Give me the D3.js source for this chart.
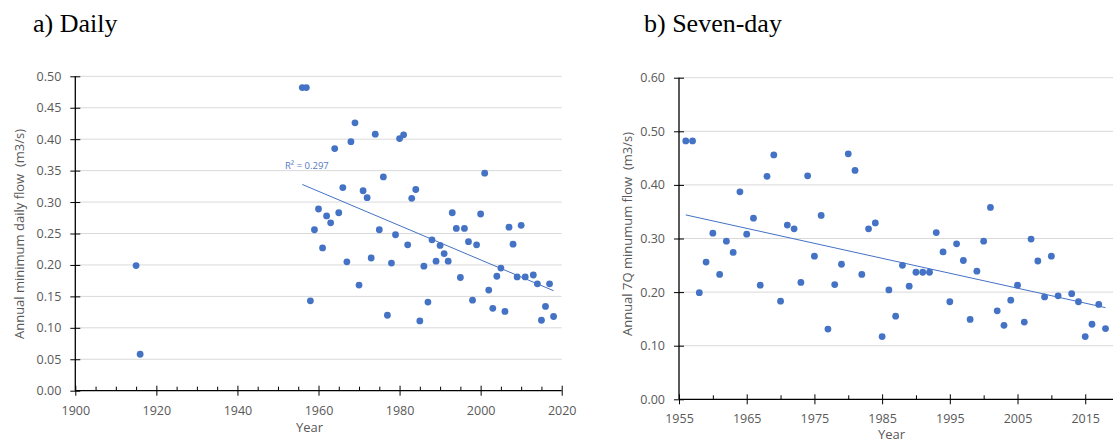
<!DOCTYPE html>
<html>
<head>
<meta charset="utf-8">
<script src="https://cdn.jsdelivr.net/npm/d3@7"></script>
<style>
  body { margin: 0; background: #fff; }
  svg { display: block; }
  .tick text { fill: #595959; font-family: "Open Sans", sans-serif; font-size: 12.5px; }
</style>
</head>
<body>
<svg id="chart" width="1113" height="443"></svg>
<script>
// a) daily minimum flow
const dailyYears = [1915, 1916, 1956, 1957, 1958, 1959, 1960, 1961, 1962, 1963, 1964, 1965, 1966, 1967, 1968, 1969, 1970,
  1971, 1972, 1973, 1974, 1975, 1976, 1977, 1978, 1979, 1980, 1981, 1982, 1983, 1984, 1985, 1986, 1987, 1988, 1989, 1990,
  1991, 1992, 1993, 1994, 1995, 1996, 1997, 1998, 1999, 2000, 2001, 2002, 2003, 2004, 2005, 2006, 2007, 2008, 2009, 2010,
  2011, 2013, 2014, 2015, 2016, 2017, 2018];
const dailyFlow = [0.199, 0.058, 0.482, 0.482, 0.143, 0.256, 0.289, 0.227, 0.278, 0.267, 0.385, 0.283, 0.323, 0.205, 0.396, 0.426, 0.168,
  0.318, 0.307, 0.211, 0.408, 0.256, 0.340, 0.120, 0.203, 0.248, 0.401, 0.407, 0.232, 0.306, 0.320, 0.111, 0.198, 0.141, 0.240, 0.206, 0.231,
  0.218, 0.206, 0.283, 0.258, 0.180, 0.258, 0.237, 0.144, 0.232, 0.281, 0.346, 0.160, 0.131, 0.182, 0.195, 0.126, 0.260, 0.233, 0.181, 0.263,
  0.181, 0.184, 0.170, 0.112, 0.134, 0.170, 0.118];
const dailyTrendYears = [1956, 2018];
const dailyTrendFlow = [0.328, 0.159];
const dailyR2 = "R² = 0.297";
const dailyXTicks = [1900, 1920, 1940, 1960, 1980, 2000, 2020];
const dailyYTicks = [0, 0.05, 0.1, 0.15, 0.2, 0.25, 0.3, 0.35, 0.4, 0.45, 0.5];

// b) seven-day minimum flow
const sevenYears = [1956, 1957, 1958, 1959, 1960, 1961, 1962, 1963, 1964, 1965, 1966, 1967, 1968, 1969, 1970,
  1971, 1972, 1973, 1974, 1975, 1976, 1977, 1978, 1979, 1980, 1981, 1982, 1983, 1984, 1985, 1986, 1987, 1988, 1989, 1990,
  1991, 1992, 1993, 1994, 1995, 1996, 1997, 1998, 1999, 2000, 2001, 2002, 2003, 2004, 2005, 2006, 2007, 2008, 2009, 2010,
  2011, 2013, 2014, 2015, 2016, 2017, 2018];
const sevenFlow = [0.482, 0.482, 0.199, 0.256, 0.310, 0.233, 0.295, 0.274, 0.387, 0.308, 0.338, 0.213, 0.416, 0.456, 0.183,
  0.325, 0.318, 0.218, 0.417, 0.267, 0.343, 0.131, 0.214, 0.252, 0.458, 0.427, 0.233, 0.318, 0.329, 0.117, 0.204, 0.155, 0.250, 0.211, 0.237,
  0.237, 0.237, 0.311, 0.275, 0.182, 0.290, 0.259, 0.149, 0.239, 0.295, 0.358, 0.165, 0.138, 0.185, 0.213, 0.144, 0.299, 0.258, 0.191, 0.267,
  0.193, 0.197, 0.182, 0.117, 0.140, 0.177, 0.132];
const sevenTrendYears = [1956, 2018];
const sevenTrendFlow = [0.344, 0.171];
const sevenXTicks = [1955, 1965, 1975, 1985, 1995, 2005, 2015];
const sevenYTicks = [0, 0.1, 0.2, 0.3, 0.4, 0.5, 0.6];

const svg = d3.select("#chart");
const blue = "#4472c4";

function drawPanel(p) {
    const x = d3.scaleLinear().domain(p.xDomain).range([p.left, p.right]);
    const y = d3.scaleLinear().domain(p.yDomain).range([p.bottom, p.top]);
    const g = svg.append("g");

    // gridlines
    g.selectAll("line.grid")
        .data(p.yTicks.filter(d => d > 0))
        .join("line")
        .attr("x1", p.left).attr("x2", p.gridEnd)
        .attr("y1", d => y(d)).attr("y2", d => y(d))
        .attr("stroke", "#d9d9d9").attr("stroke-width", 1);

    // minor x ticks (above the axis only)
    const minor = g.append("g")
        .attr("transform", `translate(0,${p.bottom})`)
        .call(d3.axisBottom(x).tickValues(p.minorTicks).tickSize(-4).tickFormat(""));
    minor.select(".domain").remove();
    minor.selectAll(".tick line").attr("stroke", "#000");

    // x axis
    const xAxis = g.append("g")
        .attr("transform", `translate(0,${p.bottom})`)
        .call(d3.axisBottom(x).tickValues(p.xTicks).tickSize(5).tickPadding(10).tickFormat(d3.format("d")));
    xAxis.select(".domain").attr("stroke", "#000").attr("stroke-width", 1.3)
        .attr("d", `M${p.left},0H${p.gridEnd}`);
    xAxis.selectAll(".tick line").attr("y1", -5).attr("y2", 5).attr("stroke", "#000");

    // y axis
    const yAxis = g.append("g")
        .attr("transform", `translate(${p.left},0)`)
        .call(d3.axisLeft(y).tickValues(p.yTicks).tickSize(5).tickPadding(9).tickFormat(d3.format(".2f")));
    yAxis.select(".domain").attr("stroke", "#000").attr("stroke-width", 1.3)
        .attr("d", `M0,${p.bottom}V${p.top}`);
    yAxis.selectAll(".tick line").attr("x1", 5).attr("x2", -5).attr("stroke", "#000");

    // trendline
    g.append("line")
        .attr("x1", x(p.trendX[0])).attr("y1", y(p.trendY[0]))
        .attr("x2", x(p.trendX[1])).attr("y2", y(p.trendY[1]))
        .attr("stroke", blue).attr("stroke-width", 1);

    // points
    g.selectAll("circle")
        .data(p.xs.map((d, i) => [d, p.ys[i]]))
        .join("circle")
        .attr("cx", d => x(d[0]))
        .attr("cy", d => y(d[1]))
        .attr("r", 3.4)
        .attr("fill", blue);

    if (p.r2) {
        g.append("text")
            .attr("x", p.r2Pos[0]).attr("y", p.r2Pos[1])
            .attr("font-family", "Open Sans, sans-serif")
            .attr("font-size", "9.5px")
            .attr("fill", "#5679bf")
            .text(p.r2);
    }

    // axis titles
    g.append("text")
        .attr("x", p.xTitlePos[0]).attr("y", p.xTitlePos[1])
        .attr("text-anchor", "middle")
        .attr("font-family", "Open Sans, sans-serif").attr("font-size", "13px")
        .attr("fill", "#595959")
        .text("Year");
    g.append("text")
        .attr("transform", `translate(${p.yTitlePos[0]},${p.yTitlePos[1]}) rotate(-90)`)
        .attr("text-anchor", "middle")
        .attr("font-family", "Open Sans, sans-serif").attr("font-size", "13px")
        .attr("fill", "#595959")
        .attr("xml:space", "preserve")
        .text(p.yTitle);

    // panel title
    svg.append("text")
        .attr("x", p.titlePos[0]).attr("y", p.titlePos[1])
        .attr("font-family", "Liberation Serif, Times New Roman, serif").attr("font-size", "26px")
        .attr("fill", "#000")
        .text(p.title);
}

drawPanel({
    title: "a) Daily", titlePos: [33, 32],
    xDomain: [1900, 2020], yDomain: [0, 0.5],
    left: 75.3, right: 561.7, top: 76.3, bottom: 390.7, gridEnd: 561.7,
    xTicks: dailyXTicks, yTicks: dailyYTicks,
    minorTicks: d3.range(1905, 2020, 5).filter(d => d % 20 !== 0),
    xs: dailyYears, ys: dailyFlow,
    trendX: dailyTrendYears, trendY: dailyTrendFlow,
    r2: dailyR2, r2Pos: [285, 168.5],
    xTitlePos: [309.5, 432], yTitlePos: [24, 234],
    yTitle: "Annual minimum daily flow  (m3/s)"
});

drawPanel({
    title: "b) Seven-day", titlePos: [644, 32],
    xDomain: [1955, 2019], yDomain: [0, 0.6],
    left: 679, right: 1112.3, top: 77.7, bottom: 399.3, gridEnd: 1113,
    xTicks: sevenXTicks, yTicks: sevenYTicks,
    minorTicks: d3.range(1960, 2019, 10),
    xs: sevenYears, ys: sevenFlow,
    trendX: sevenTrendYears, trendY: sevenTrendFlow,
    r2: null,
    xTitlePos: [891.5, 439], yTitlePos: [632, 234],
    yTitle: "Annual 7Q minumum flow  (m3/s)"
});
</script>
</body>
</html>
